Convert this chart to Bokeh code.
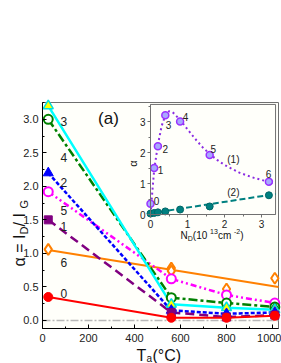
from math import pi
from bokeh.plotting import figure
from bokeh.models import (Range1d, LinearAxis, SingleIntervalTicker, FixedTicker,
                          PrintfTickFormatter, Label)
from bokeh.core.properties import value
from bokeh.embed import file_html
from bokeh.resources import INLINE

FONT = "Liberation Sans"

# ---------------- main panel data ----------------
anneal_T = [25, 560, 800, 1010]
alpha_0 = [0.35, 0.04, 0.04, 0.07]
alpha_1 = [1.50, 0.12, 0.05, 0.08]
alpha_2 = [2.20, 0.15, 0.10, 0.12]
alpha_3 = [3.20, 0.24, 0.19, 0.16]
alpha_4 = [3.00, 0.34, 0.26, 0.20]
alpha_5 = [1.92, 0.62, 0.38, 0.26]
alpha_6 = [1.06, 0.78, 0.47, 0.63]
extra6_T = [560]
extra6_alpha = [0.74]
extra4_T = [560, 1010]
extra4_alpha = [0.20, 0.18]
fit6_T = [25, 1026]
fit6_alpha = [1.05, 0.50]

curve_labels = ["0", "1", "2", "3", "4", "5", "6"]
curve_label_T = [78, 78, 78, 78, 78, 78, 78]
curve_label_alpha = [0.40, 1.40, 2.06, 2.96, 2.43, 1.64, 0.87]

# ---------------- inset data ----------------
nd = [0.0, 0.1, 0.2, 0.4, 0.8, 1.6, 3.2]
alpha_nd_1 = [0.35, 1.50, 2.20, 3.20, 3.00, 1.92, 1.06]
alpha_nd_2 = [0.03, 0.05, 0.07, 0.10, 0.16, 0.26, 0.62]
fit1_nd = [0.0, 0.05, 0.1, 0.15, 0.2, 0.3, 0.4, 0.5, 0.6, 0.8, 1.0, 1.2,
           1.4, 1.6, 1.8, 2.0, 2.4, 2.8, 3.2, 3.3]
fit1_alpha = [0.0, 0.75, 1.45, 1.85, 2.25, 2.85, 3.2, 3.33, 3.3, 3.05, 2.75,
              2.45, 2.18, 1.95, 1.76, 1.6, 1.35, 1.18, 1.05, 1.02]
fit2_nd = [0.0, 3.38]
fit2_alpha = [0.04, 0.66]
inset_labels = ["0", "1", "2", "3", "4", "5", "6", "(1)", "(2)"]
inset_label_nd = [0.16, 0.27, 0.40, 0.49, 0.95, 1.70, 3.19, 2.24, 2.24]
inset_label_alpha = [0.45, 1.45, 2.10, 2.90, 3.13, 2.10, 1.32, 1.77, 0.71]
inset_x_ticks = [0, 1, 2, 3]
inset_y_ticks = [0, 1, 2, 3]

# ---------------- layout (page pixels) ----------------
W, H = 281, 363
CL, CT = 0, 0                 # canvas origin on the page
CR, CB = CL + W, CT + H
PL, PR, PT, PB = 42, 278, 102, 328   # main plot box on the page
XD = (0, 1026)                # main plot data extents
YD = (-0.12, 3.25)
SX = (PR - PL) / (XD[1] - XD[0])
SY = (PB - PT) / (YD[1] - YD[0])
XR = (XD[0] + (CL - PL) / SX, XD[0] + (CR - PL) / SX)
YR = (YD[0] + (PB - CB) / SY, YD[0] + (PB - CT) / SY)
# inset placement: origin pixel and pixels per unit
IX0, IXU = 150, 37.0
IY0, IYU = 214, 31.0
IXR = ((CL - IX0) / IXU, (CR - IX0) / IXU)
IYR = ((IY0 - CB) / IYU, (IY0 - CT) / IYU)
INSET_BOX = (0, 3.38, 0, 3.55)


def mx(px):
    return XD[0] + (px - PL) / SX


def my(py):
    return YD[0] + (PB - py) / SY


def ix(px):
    return (px - IX0) / IXU


def iy(py):
    return (IY0 - py) / IYU


p = figure(width=W, height=H, x_range=Range1d(*XR), y_range=Range1d(*YR),
           output_backend="svg", toolbar_location=None,
           x_axis_location=None, y_axis_location=None, min_border=0)
p.grid.visible = False
p.background_fill_color = "white"
p.border_fill_color = "white"
p.outline_line_color = None

p.extra_x_ranges = {"ix": Range1d(*IXR)}
p.extra_y_ranges = {"iy": Range1d(*IYR)}

# main plot box
p.quad(left=[XD[0]], right=[XD[1]], bottom=[YD[0]], top=[YD[1]],
       fill_color="#fffffa", line_color="#707070", line_width=1, level="underlay")

# main axes, pinned to the plot box edges
xa = LinearAxis(fixed_location=YD[0], bounds=XD,
                ticker=SingleIntervalTicker(interval=200, num_minor_ticks=2))
ya = LinearAxis(fixed_location=XD[0], bounds=YD,
                ticker=SingleIntervalTicker(interval=0.5, num_minor_ticks=2),
                formatter=PrintfTickFormatter(format="%.1f"))
for ax in (xa, ya):
    ax.axis_line_color = "black"
    ax.major_tick_line_color = "black"
    ax.minor_tick_line_color = "black"
    ax.major_tick_in = 4
    ax.major_tick_out = 0
    ax.minor_tick_in = 2
    ax.minor_tick_out = 0
    ax.major_label_text_font = FONT
    ax.major_label_text_font_size = "11px"
    ax.major_label_text_color = "#222222"
xa.major_label_standoff = 5
ya.major_label_standoff = 4
p.add_layout(xa, "below")
p.add_layout(ya, "left")

# zero reference line
p.segment(x0=[XD[0]], x1=[XD[1]], y0=[0], y1=[0], line_color="#b8b8b8",
          line_dash="8 2 2 2", line_width=1.5, level="underlay")

# inset frame
p.quad(left=[INSET_BOX[0]], right=[INSET_BOX[1]], bottom=[INSET_BOX[2]],
       top=[INSET_BOX[3]], fill_color="#fffffa", line_color="#707070",
       line_width=1, x_range_name="ix", y_range_name="iy", level="underlay")

# ---- main lines ----
p.line(fit6_T, fit6_alpha, line_color="#ff8000", line_width=2)
p.line(anneal_T, alpha_5, line_color="#ff00ff", line_width=2.5, line_dash="6 3 2 3 2 3")
p.line(anneal_T, alpha_4, line_color="#008000", line_width=2.5, line_dash="9 3 3 3")
p.line(anneal_T, alpha_3, line_color="#00ffff", line_width=2.5)
p.line(anneal_T, alpha_2, line_color="#0000ff", line_width=2.5, line_dash="4 2")
p.line(anneal_T, alpha_1, line_color="#800080", line_width=2.5, line_dash="9 5")
p.line(anneal_T, alpha_0, line_color="#ff0000", line_width=2)

# ---- main markers ----
p.scatter(anneal_T, alpha_6, marker="diamond", size=11, fill_color="white",
          line_color="#ff8000", line_width=2)
p.scatter(extra6_T, extra6_alpha, marker="diamond", size=11, fill_color="white",
          line_color="#ff8000", line_width=2)
p.scatter(anneal_T, alpha_5, marker="circle", size=9, fill_color="white",
          line_color="#ff00ff", line_width=2)
p.scatter(anneal_T, alpha_4, marker="circle", size=9, fill_color="white",
          line_color="#008000", line_width=2)
p.scatter(extra4_T, extra4_alpha, marker="diamond", size=10, fill_color="white",
          line_color="#008000", line_width=2)
p.scatter(anneal_T, alpha_3, marker="triangle", size=10, fill_color="#ffff00",
          line_color="#00e0e0", line_width=1.5)
p.scatter(anneal_T, alpha_2, marker="triangle", size=10, fill_color="#0000ff",
          line_color="#0000ff")
p.scatter(anneal_T, alpha_1, marker="square", size=8, fill_color="#800080",
          line_color="#800080")
p.scatter(anneal_T, alpha_0, marker="circle", size=9, fill_color="#ff0000",
          line_color="#ff0000")

p.text(x=curve_label_T, y=curve_label_alpha, text=curve_labels,
       text_font=value(FONT), text_font_size="12px", text_color="#222222",
       text_align="left", text_baseline="middle")

p.add_layout(Label(x=mx(108), y=my(118), text="(a)", text_font=FONT,
                   text_font_size="17px", text_color="#111111",
                   text_align="center", text_baseline="middle"))

# ---- inset glyphs ----
p.line(fit1_nd, fit1_alpha, line_color="#8a2be2", line_width=2, line_dash="2 3",
       x_range_name="ix", y_range_name="iy")
p.line(fit2_nd, fit2_alpha, line_color="#008080", line_width=2, line_dash="6 3",
       x_range_name="ix", y_range_name="iy")
p.scatter(nd, alpha_nd_1, marker="circle", size=7, fill_color="#a8a8ff",
          line_color="#9933ff", line_width=1.5, x_range_name="ix", y_range_name="iy")
p.scatter(nd, alpha_nd_2, marker="circle", size=7, fill_color="#008080",
          line_color="#006666", line_width=1, x_range_name="ix", y_range_name="iy")
p.text(x=inset_label_nd, y=inset_label_alpha, text=inset_labels,
       text_font=value(FONT), text_font_size="10px", text_color="#222222",
       text_align="center", text_baseline="middle",
       x_range_name="ix", y_range_name="iy")

# inset axes (placed inside the frame with fixed_location)
iax = LinearAxis(x_range_name="ix", y_range_name="iy", fixed_location=0,
                 bounds=(INSET_BOX[0], INSET_BOX[1]),
                 ticker=FixedTicker(ticks=inset_x_ticks, minor_ticks=[0.5, 1.5, 2.5]))
iay = LinearAxis(x_range_name="ix", y_range_name="iy", fixed_location=0,
                 bounds=(INSET_BOX[2], INSET_BOX[3]),
                 ticker=FixedTicker(ticks=inset_y_ticks, minor_ticks=[0.5, 1.5, 2.5, 3.5]))
for ax in (iax, iay):
    ax.axis_line_color = "#707070"
    ax.major_tick_line_color = "#707070"
    ax.minor_tick_line_color = "#707070"
    ax.major_tick_in = 0
    ax.major_tick_out = 3
    ax.minor_tick_in = 0
    ax.minor_tick_out = 2
    ax.major_label_text_font = FONT
    ax.major_label_text_font_size = "10px"
    ax.major_label_text_color = "#222222"
    ax.major_label_standoff = 2
p.add_layout(iax, "below")
p.add_layout(iay, "left")


def lab(x, y, text, size, rng=None, angle=0.0, align="left", baseline="alphabetic"):
    kw = {}
    if rng is not None:
        kw["x_range_name"] = rng[0]
        kw["y_range_name"] = rng[1]
    p.add_layout(Label(x=x, y=y, text=text, text_font=FONT,
                       text_font_size=f"{size}px", text_color="#111111",
                       angle=angle, text_align=align, text_baseline=baseline, **kw))


# main y axis label: alpha = I_D / I_G (rotated, reading upward)
lab(mx(19), my(266), "\u03b1 = I", 16, angle=pi / 2)
lab(mx(23), my(234), "D", 11, angle=pi / 2)
lab(mx(19), my(226), " / I", 16, angle=pi / 2)
lab(mx(23), my(208), "G", 11, angle=pi / 2)

# main x axis label: T_a (°C)
lab(mx(136), my(355), "T", 16)
lab(mx(146), my(358), "a", 10)
lab(mx(152), my(355), " (\u00b0C)", 16)

# inset axis labels
INS = ("ix", "iy")
lab(ix(180), iy(235), "N", 10, INS)
lab(ix(187.2), iy(237.5), "D", 7, INS)
lab(ix(192.3), iy(235), " (10", 10, INS)
lab(ix(209.6), iy(231), "13", 7, INS)
lab(ix(217.4), iy(235), " cm", 10, INS)
lab(ix(233.5), iy(231), "-2", 7, INS)
lab(ix(239.7), iy(235), ")", 10, INS)
lab(ix(132), iy(163), "\u03b1", 11, INS, angle=pi / 2, align="center")

open("out.html", "w").write(file_html(p, INLINE))
